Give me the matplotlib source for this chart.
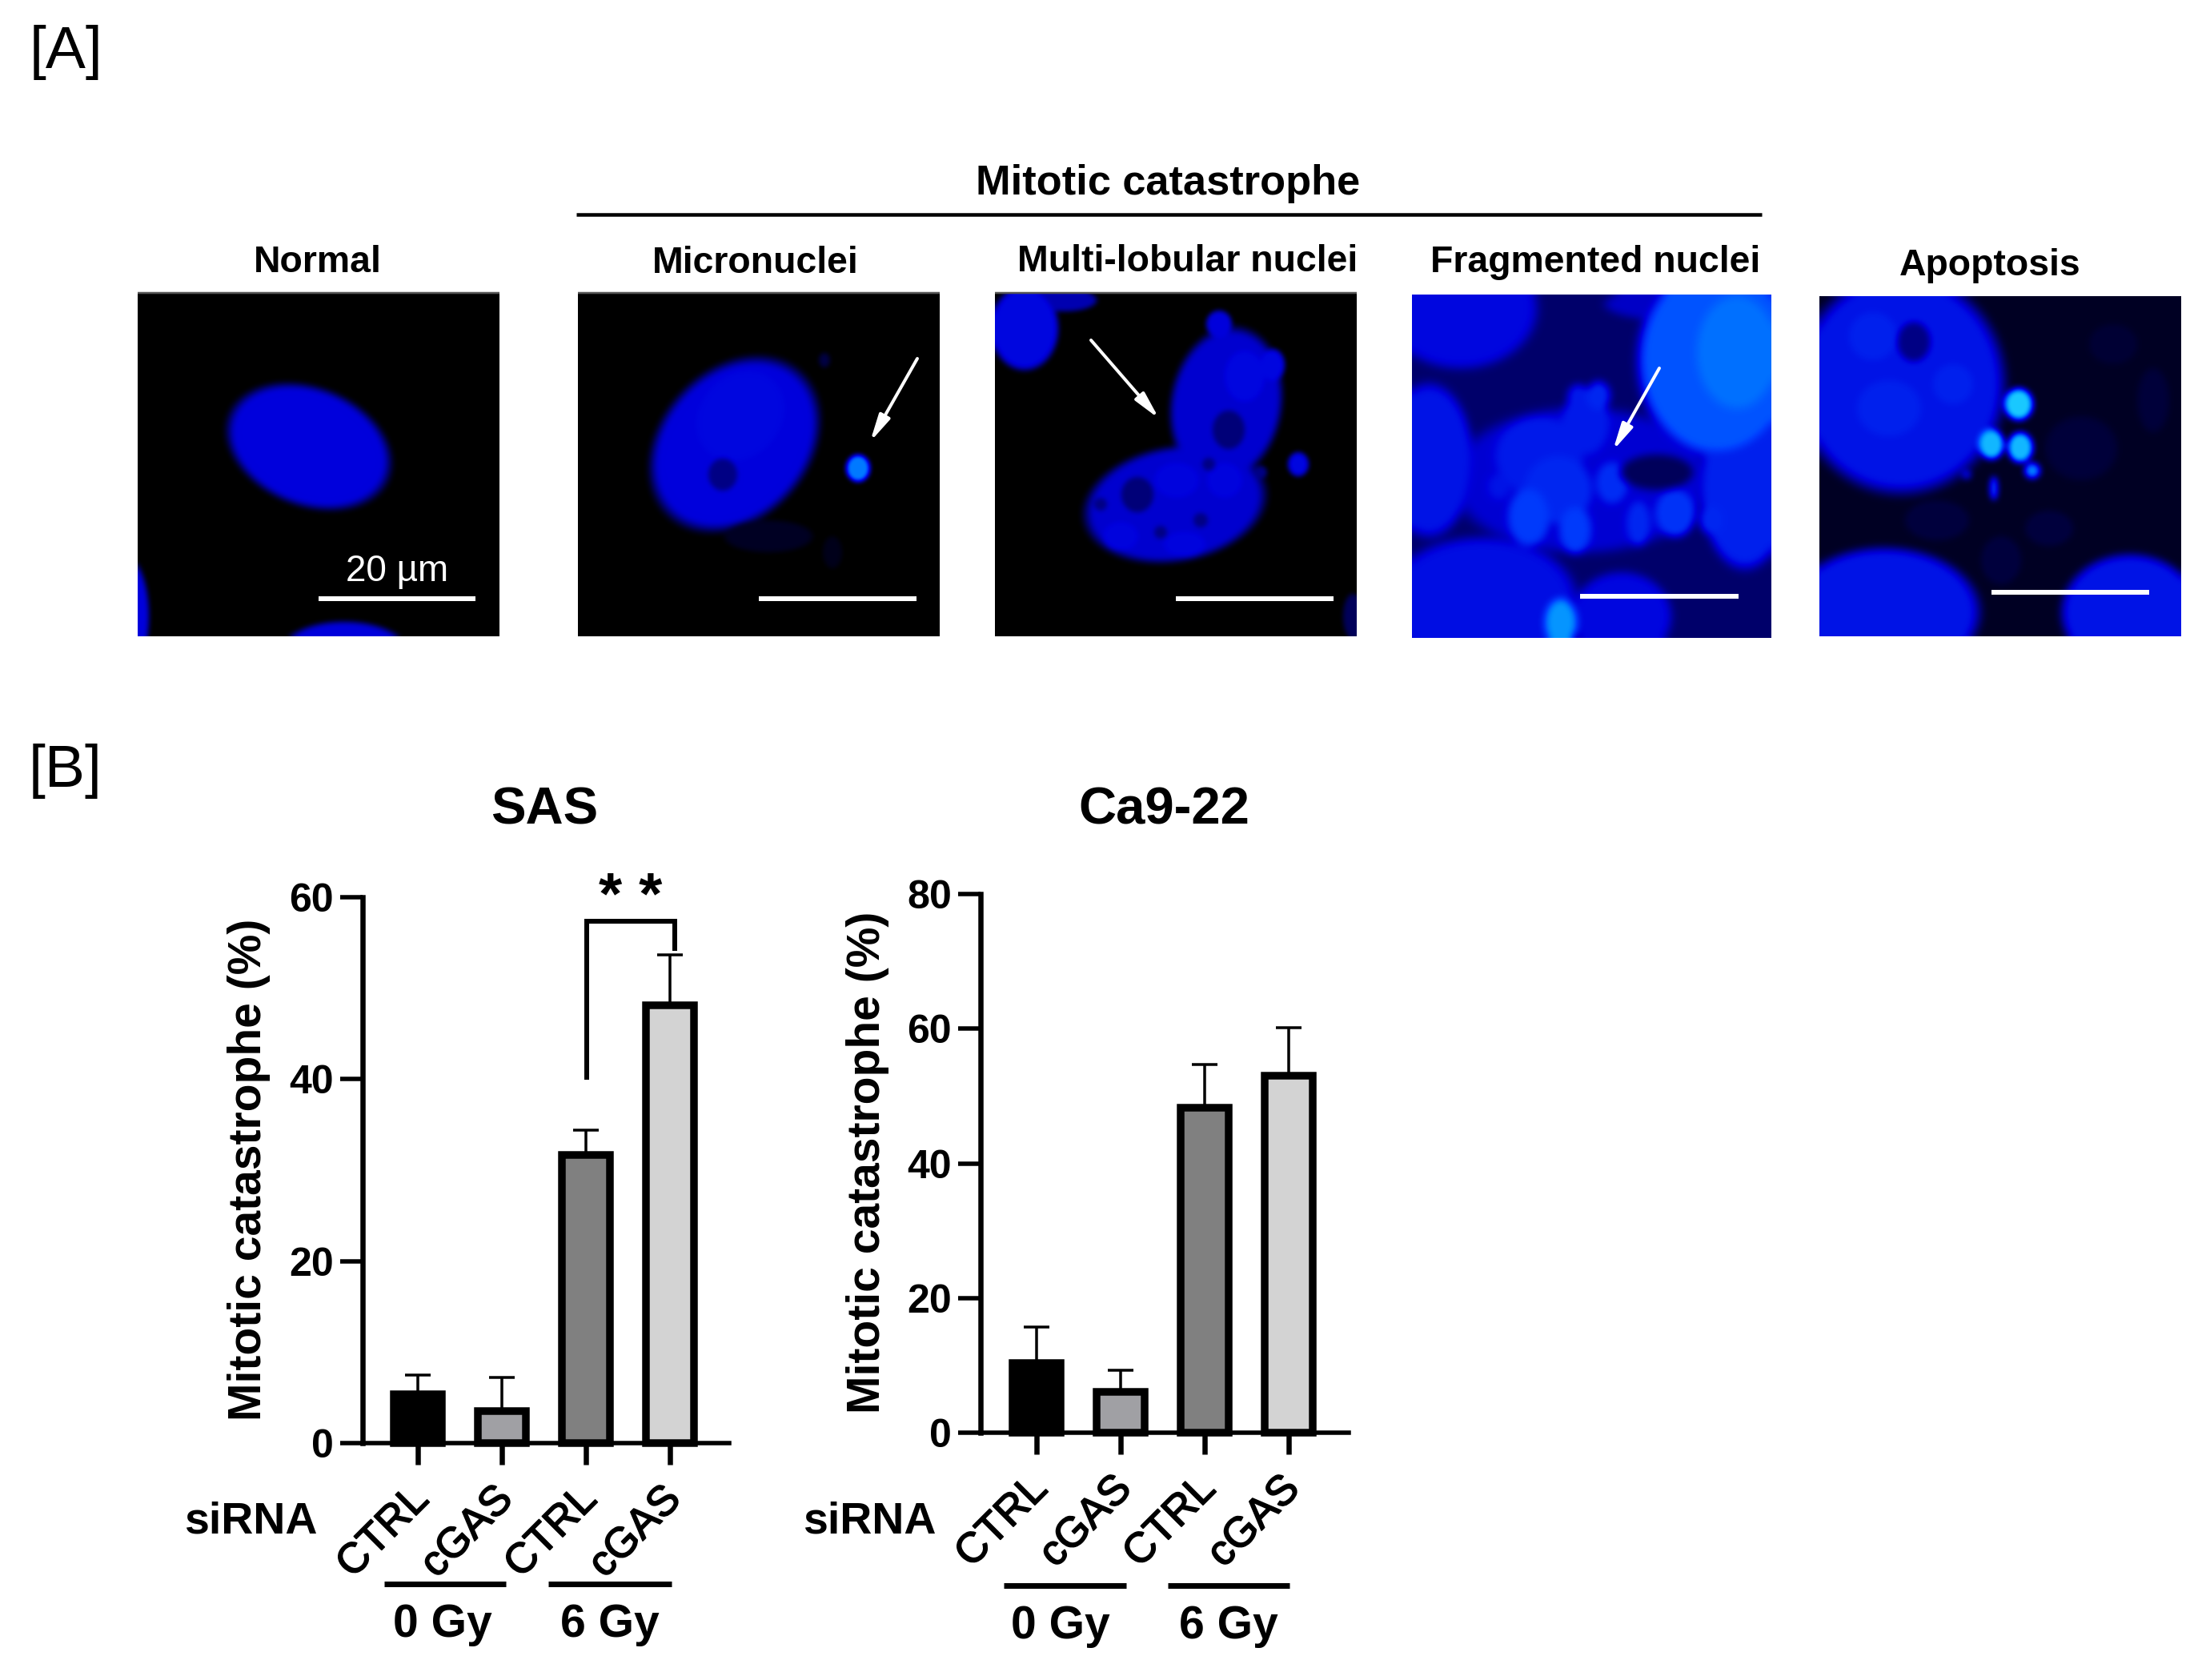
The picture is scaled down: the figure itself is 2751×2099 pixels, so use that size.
import matplotlib
matplotlib.use('Agg')
import matplotlib.pyplot as plt
import matplotlib.patheffects as pe
import matplotlib.transforms as mtrans
from matplotlib.colors import LinearSegmentedColormap
import numpy as np

plt.rcParams['font.family'] = ['Liberation Sans', 'DejaVu Sans']

W, H = 2751, 2099
PX = 72 / 100  # pontos por pixel a 100 dpi

# ===== DADOS DAS BARRAS =====
groups = ['CTRL', 'cGAS', 'CTRL', 'cGAS']
bar_colors = ['#000000', '#a0a0a4', '#808080', '#d3d3d3']

sas_values = [5.4, 3.5, 31.7, 48.1]
sas_tops = [7.5, 7.2, 34.4, 53.7]
sas_ticks = [0, 20, 40, 60]

ca9_values = [10.4, 6.1, 48.3, 53.0]
ca9_tops = [15.7, 9.3, 54.7, 60.1]
ca9_ticks = [0, 20, 40, 60, 80]

# ===== PAINÉIS DE MICROSCOPIA =====
# (x, y, rx, ry, angulo, nivel) em pixels da figura; nivel 0-1 na escala azul
panel_titles = ['Normal', 'Micronuclei', 'Multi-lobular nuclei', 'Fragmented nuclei', 'Apoptosis']
panel_title_x = [397, 944, 1484, 1993, 2486]
panel_title_y = [328, 329, 327, 328, 332]
panel_boxes = [(172, 624, 365, 795), (722, 1174, 365, 795), (1243, 1695, 365, 795),
               (1764, 2213, 368, 797), (2273, 2725, 370, 795)]
panel_bg = [0.0, 0.0, 0.0, 0.24, 0.08]
panel_blur = [3, 3, 3, 5, 4]

normal_blobs = [(386, 558, 104, 72, 22, 0.5), (156, 770, 30, 75, 0, 0.5), (430, 815, 78, 38, 0, 0.5)]
micro_blobs = [(918, 555, 118, 90, -48, 0.5), (925, 520, 60, 50, -48, 0.52), (1072, 585, 15, 17, 0, 0.82),
               (903, 593, 18, 20, 0, 0.3), (960, 670, 55, 20, 0, 0.08), (1040, 690, 12, 20, 0, 0.06),
               (1030, 450, 7, 9, 0, 0.15)]
multi_blobs = [(1532, 505, 68, 95, 10, 0.47), (1468, 630, 112, 70, -10, 0.47), (1280, 410, 42, 52, 0, 0.52),
               (1330, 375, 40, 14, 0, 0.4), (1523, 405, 16, 17, 0, 0.5), (1590, 456, 15, 20, 0, 0.52),
               (1622, 580, 13, 15, 0, 0.52), (1555, 470, 25, 32, 0, 0.52), (1470, 600, 28, 22, 0, 0.51),
               (1530, 600, 22, 22, 0, 0.51), (1400, 670, 22, 18, 0, 0.51), (1480, 680, 26, 16, 0, 0.51),
               (1535, 537, 20, 24, 0, 0.27), (1421, 618, 20, 22, 0, 0.27), (1690, 770, 12, 28, 0, 0.2),
               (1500, 650, 9, 9, 0, 0.3), (1450, 665, 8, 8, 0, 0.3), (1375, 630, 8, 8, 0, 0.3),
               (1510, 580, 8, 8, 0, 0.3), (1575, 590, 8, 8, 0, 0.3), (1490, 470, 8, 10, 0, 0.32)]
frag_blobs = [(1825, 385, 95, 75, 0, 0.52), (2145, 450, 98, 120, 0, 0.74), (2170, 440, 50, 70, 0, 0.8),
              (2180, 610, 55, 100, 0, 0.6), (1785, 575, 55, 95, 0, 0.56), (1851, 750, 118, 78, 0, 0.54),
              (2026, 770, 62, 55, 0, 0.52), (1950, 778, 20, 30, 0, 0.88), (1975, 600, 160, 90, 0, 0.48),
              (1923, 570, 55, 50, 0, 0.58), (1981, 528, 30, 40, 0, 0.58), (1997, 494, 15, 18, 0, 0.62),
              (1972, 496, 14, 16, 0, 0.58), (1910, 646, 26, 36, 0, 0.68), (1968, 662, 20, 30, 0, 0.68),
              (2014, 603, 20, 26, 0, 0.64), (2047, 654, 15, 28, 0, 0.62), (2093, 641, 25, 30, 0, 0.66),
              (2138, 650, 15, 18, 0, 0.62), (1873, 608, 14, 16, 0, 0.56), (1947, 612, 42, 42, 0, 0.62),
              (2085, 380, 80, 20, 0, 0.45), (2070, 590, 45, 22, 0, 0.2)]
apop_blobs = [(2375, 480, 128, 135, 0, 0.56), (2391, 427, 20, 24, 0, 0.3), (2360, 510, 40, 35, 0, 0.6),
              (2440, 480, 25, 25, 0, 0.6), (2340, 420, 30, 30, 0, 0.6),
              (2522, 505, 18, 20, 0, 1.0), (2488, 555, 16, 19, 0, 0.96), (2524, 559, 16, 19, 0, 0.96),
              (2539, 588, 10, 10, 0, 0.82), (2491, 610, 5, 15, 0, 0.72), (2457, 593, 6, 6, 0, 0.5),
              (2354, 765, 118, 80, 0, 0.56), (2661, 765, 85, 72, 0, 0.56), (2420, 650, 40, 25, 0, 0.14),
              (2600, 560, 45, 40, 0, 0.13), (2500, 700, 25, 30, 0, 0.14), (2690, 500, 20, 40, 0, 0.13),
              (2560, 660, 30, 22, 0, 0.14), (2640, 430, 30, 25, 0, 0.12)]
panel_blobs = [normal_blobs, micro_blobs, multi_blobs, frag_blobs, apop_blobs]

scale_bars = [(398, 594, 748), (948, 1145, 748), (1469, 1666, 748), (1974, 2172, 745), (2488, 2685, 740)]
arrows = [((1146, 448), (1087, 552)), ((1363, 425), (1448, 523)), ((2073, 460), (2015, 563))]

blue_map = LinearSegmentedColormap.from_list('dapi', [
    (0.0, '#000000'), (0.2, '#00005a'), (0.5, '#0000dc'), (0.7, '#0040ff'),
    (0.85, '#0088ff'), (1.0, '#19c8ff')])


def blur(img, radius):
    kernel = np.exp(-0.5 * (np.arange(-2 * radius, 2 * radius + 1) / radius) ** 2)
    kernel = kernel / kernel.sum()
    pad = 2 * radius
    big = np.pad(img, pad, mode='edge')
    big = np.apply_along_axis(lambda r: np.convolve(r, kernel, mode='same'), 1, big)
    big = np.apply_along_axis(lambda c: np.convolve(c, kernel, mode='same'), 0, big)
    return big[pad:-pad, pad:-pad]


def render_panel(box, background, blobs, radius):
    x0, x1, y0, y1 = box
    xx, yy = np.meshgrid(np.arange(x0, x1) + 0.5, np.arange(y0, y1) + 0.5)
    img = np.full(xx.shape, background, dtype=float)
    for cx, cy, rx, ry, ang, level in blobs:
        t = np.deg2rad(ang)
        u = (xx - cx) * np.cos(t) + (yy - cy) * np.sin(t)
        v = -(xx - cx) * np.sin(t) + (yy - cy) * np.cos(t)
        d = np.sqrt((u / rx) ** 2 + (v / ry) ** 2)
        edge = np.clip((1.1 - d) / 0.2, 0, 1)
        edge = edge * edge * (3 - 2 * edge)
        if level > 0.3:
            img = img * (1 - edge) + np.maximum(img, level) * edge
        else:
            img = img * (1 - edge) + level * edge
    return blur(img, radius)


fig = plt.figure(figsize=(W / 100, H / 100), dpi=100, facecolor='white')

# eixo de fundo em pixels para as anotações
over = fig.add_axes([0, 0, 1, 1])
over.set_xlim(0, W)
over.set_ylim(H, 0)
over.axis('off')

over.text(82, 65, '[A]', fontsize=54, ha='center', va='center')
over.text(82, 963, '[B]', fontsize=54, ha='center', va='center')

over.text(1459, 229, 'Mitotic catastrophe', fontsize=37.7, fontweight='bold', ha='center', va='center')
over.plot([720, 2201], [268, 268], color='black', lw=4.5 * PX, solid_capstyle='butt')

for name, tx, ty in zip(panel_titles, panel_title_x, panel_title_y):
    over.text(tx, ty, name, fontsize=33.4, fontweight='bold', ha='center', va='center')

for box, bg, blobs, radius in zip(panel_boxes, panel_bg, panel_blobs, panel_blur):
    over.imshow(render_panel(box, bg, blobs, radius), cmap=blue_map, vmin=0, vmax=1,
                extent=(box[0], box[1], box[3], box[2]), aspect='auto', interpolation='bilinear')
over.set_xlim(0, W)
over.set_ylim(H, 0)

for box in panel_boxes[:3]:
    over.plot([box[0], box[1]], [box[2] + 1, box[2] + 1], color='#555555', lw=2.5 * PX, solid_capstyle='butt')

for x0, x1, yb in scale_bars:
    over.plot([x0, x1], [yb, yb], color='white', lw=6 * PX, solid_capstyle='butt')
over.text(496, 714, '20 µm', color='white', fontsize=33, ha='center', va='center')

for start, end in arrows:
    over.annotate('', xy=end, xytext=start,
                  arrowprops=dict(arrowstyle='-|>,head_length=1.0,head_width=0.22', color='white',
                                  lw=4 * PX, shrinkA=0, shrinkB=0, mutation_scale=20))


def bar_panel(left, right, top, bottom, first_tick, step, ymax, values, tops, ticks):
    ax = fig.add_axes([left / W, 1 - bottom / H, (right - left) / W, (bottom - top) / H])
    ax.patch.set_alpha(0)
    ax.set_xlim((left - first_tick) / step, (right - first_tick) / step)
    ax.set_ylim(0, ymax)
    x = np.arange(len(values))

    ax.errorbar(x, values, yerr=[np.zeros(4), np.array(tops) - np.array(values)], fmt='none',
                ecolor='black', elinewidth=3.5 * PX, capsize=16 * PX, capthick=3.5 * PX, zorder=1)
    ax.bar(x, values, width=0.58, color=bar_colors, edgecolor='black', linewidth=9.5 * PX, zorder=2, clip_on=False)

    for side in ['top', 'right']:
        ax.spines[side].set_visible(False)
    ax.spines['left'].set_linewidth(6.5 * PX)
    ax.spines['bottom'].set_linewidth(5.5 * PX)
    ax.spines['left'].set_zorder(3)
    ax.spines['bottom'].set_zorder(3)

    ax.set_yticks(ticks)
    ax.set_yticklabels([str(t) for t in ticks], fontsize=36, fontweight='bold')
    ax.tick_params(axis='y', length=28 * PX, width=5.5 * PX, pad=8 * PX)
    ax.set_xticks(x)
    ax.set_xticklabels(groups, fontsize=38, rotation=45, ha='right', va='top', rotation_mode='anchor')
    ax.tick_params(axis='x', length=27 * PX, width=6.5 * PX, pad=18 * PX)
    shift = mtrans.ScaledTranslation(-12 / 100, 0, fig.dpi_scale_trans)
    for lab in ax.get_xticklabels():
        lab.set_transform(lab.get_transform() + shift)
        lab.set_path_effects([pe.withStroke(linewidth=1.2, foreground='black')])
    return ax


# ===== SAS =====
ax_sas = bar_panel(453, 911, 1121, 1803, 522, 105, 60, sas_values, sas_tops, sas_ticks)
ax_sas.plot([2.01, 2.01, 3.06, 3.06], [40.2, 57.4, 57.4, 54.4], color='black', lw=6 * PX,
            solid_joinstyle='miter', clip_on=False)
over.text(788, 1122, '* *', fontsize=54, fontweight='bold', ha='center', va='center')
over.text(680, 1013, 'SAS', fontsize=47, fontweight='bold', ha='center', va='center')
over.text(311, 1461, 'Mitotic catastrophe (%)', fontsize=41, fontweight='bold', rotation=90, ha='center', va='center')
over.text(313, 1901, 'siRNA', fontsize=40, fontweight='bold', ha='center', va='center')
over.plot([480, 632], [1979, 1979], color='black', lw=7 * PX, solid_capstyle='butt')
over.plot([685, 839], [1979, 1979], color='black', lw=7 * PX, solid_capstyle='butt')
over.text(553, 2030, '0 Gy', fontsize=41, fontweight='bold', ha='center', va='center')
over.text(762, 2030, '6 Gy', fontsize=41, fontweight='bold', ha='center', va='center')

# ===== Ca9-22 =====
ax_ca9 = bar_panel(1225, 1685, 1117, 1790, 1295, 105, 80, ca9_values, ca9_tops, ca9_ticks)
over.text(1454, 1012, 'Ca9-22', fontsize=47, fontweight='bold', ha='center', va='center')
over.text(1084, 1452, 'Mitotic catastrophe (%)', fontsize=41, fontweight='bold', rotation=90, ha='center', va='center')
over.text(1086, 1902, 'siRNA', fontsize=40, fontweight='bold', ha='center', va='center')
over.plot([1254, 1407], [1981, 1981], color='black', lw=7 * PX, solid_capstyle='butt')
over.plot([1459, 1611], [1981, 1981], color='black', lw=7 * PX, solid_capstyle='butt')
over.text(1325, 2032, '0 Gy', fontsize=41, fontweight='bold', ha='center', va='center')
over.text(1535, 2032, '6 Gy', fontsize=41, fontweight='bold', ha='center', va='center')

fig.savefig('out.png', dpi=100, facecolor='white')
